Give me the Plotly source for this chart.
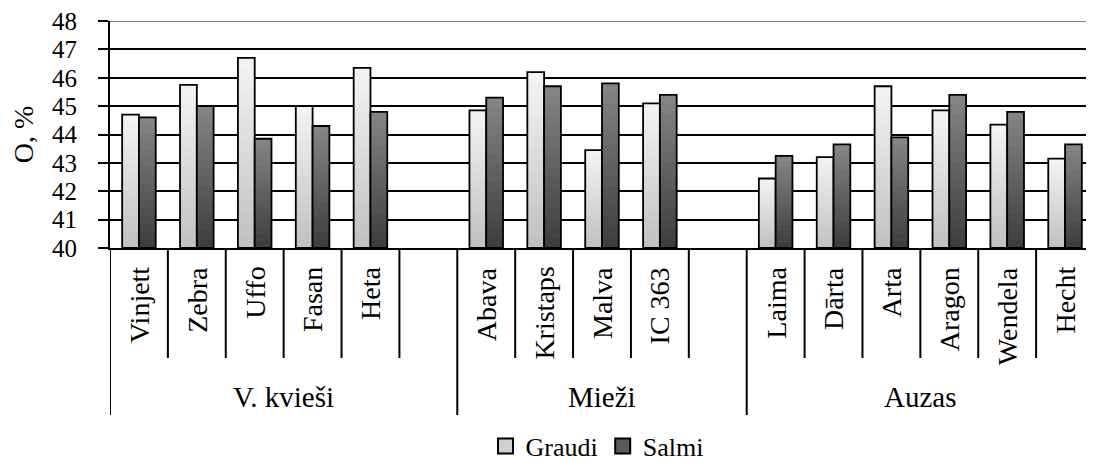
import plotly.graph_objects as go

# ---- data ----
groups = ["V. kvieši", "Mieži", "Auzas"]
varieties = [
    ["Vinjett", "Zebra", "Uffo", "Fasan", "Heta"],
    ["Abava", "Kristaps", "Malva", "IC 363"],
    ["Laima", "Dārta", "Arta", "Aragon", "Wendela", "Hecht"],
]
graudi = [44.7, 45.75, 46.7, 45.0, 46.35,
          44.85, 46.2, 43.45, 45.1,
          42.45, 43.2, 45.7, 44.85, 44.35, 43.15]
salmi = [44.6, 45.0, 43.85, 44.3, 44.8,
         45.3, 45.7, 45.8, 45.4,
         43.25, 43.65, 43.9, 45.4, 44.8, 43.65]
y_ticks = [40, 41, 42, 43, 44, 45, 46, 47, 48]

FONT = "Liberation Serif, Times New Roman, serif"
BASE = 40
OFF = 8  # page body margin of the browser

# slot positions: one empty slot after each group except the last
xpos, names, group_spans = [], [], []
slot = 0
for gi, vs in enumerate(groups):
    start = slot
    for v in varieties[gi]:
        xpos.append(slot)
        names.append(v)
        slot += 1
    if gi < len(groups) - 1:
        slot += 1  # blank slot
    group_spans.append((start - 0.5, slot - 0.5))
nslots = slot

fig = go.Figure()
W = 0.29
N = 16


def hexmix(c1, c2, t):
    r = [round(c1[i] + (c2[i] - c1[i]) * t) for i in range(3)]
    return "rgb(%d,%d,%d)" % tuple(r)


series = [
    ("Graudi", graudi, -W, (0xC0, 0xC0, 0xC0), (0xF4, 0xF4, 0xF4), "#d0d0d0"),
    ("Salmi", salmi, 0.0, (0x3C, 0x3C, 0x3C), (0x86, 0x86, 0x86), "#5a5a5a"),
]
for name, vals, off, cbot, ctop, legc in series:
    for k in range(N):
        bases = [BASE + (v - BASE) * k / N for v in vals]
        fig.add_trace(go.Bar(
            x=xpos, y=[v - b for v, b in zip(vals, bases)], base=bases,
            offset=off, width=W, showlegend=False, hoverinfo="skip",
            marker=dict(color=hexmix(cbot, ctop, (k + 0.5) / N), line=dict(width=0)),
        ))
    fig.add_trace(go.Bar(
        x=xpos, y=[v - BASE for v in vals], base=[BASE] * len(vals),
        offset=off, width=W, showlegend=False, name=name,
        marker=dict(color="rgba(0,0,0,0)", line=dict(color="black", width=1.8)),
    ))
    fig.add_trace(go.Scatter(
        x=[None], y=[None], name=name, mode="markers",
        marker=dict(symbol="square", size=15, color=legc,
                    line=dict(color="black", width=2)),
    ))

# target pixel positions (in the 1094x462 picture)
PLOT_TOP, PLOT_BOT = 21, 248
plot_h = PLOT_BOT - PLOT_TOP


def py(ypix):
    return (PLOT_BOT - ypix) / plot_h


shapes = []
short_y = py(358)
long_y = py(415)
group_edges = set()
for a, b in group_spans:
    group_edges.add(a)
    group_edges.add(b)
for i in range(nslots + 1):
    xb = i - 0.5
    y1 = long_y if xb in group_edges else short_y
    shapes.append(dict(type="line", xref="x", yref="paper", x0=xb, x1=xb,
                       y0=0, y1=y1, line=dict(color="black", width=2)))
# top gridline is grey
shapes.append(dict(type="line", xref="paper", yref="y", x0=0, x1=1, y0=48, y1=48,
                   line=dict(color="#808080", width=2), layer="above"))

annotations = []
for x, n in zip(xpos, names):
    annotations.append(dict(x=x, y=py(265), xref="x", yref="paper",
                            text=n, textangle=-90, showarrow=False,
                            xanchor="center", yanchor="top",
                            font=dict(family=FONT, size=28, color="black")))
for g, (a, b) in zip(groups, group_spans):
    annotations.append(dict(x=(a + b) / 2, y=py(397), xref="x", yref="paper",
                            text=g, showarrow=False, xanchor="center", yanchor="middle",
                            font=dict(family=FONT, size=29, color="black")))

FIG_W, FIG_H = 1094 - OFF, 462 - OFF
LEFT = 110 - OFF
fig.update_layout(
    width=FIG_W, height=FIG_H,
    margin=dict(l=LEFT, r=0, t=PLOT_TOP - OFF, b=FIG_H - (PLOT_BOT - OFF), autoexpand=False),
    paper_bgcolor="white", plot_bgcolor="white",
    barmode="overlay",
    showlegend=True,
    legend=dict(orientation="h", x=(597 - 110) / (FIG_W - LEFT), y=py(446),
                xanchor="center", yanchor="middle",
                font=dict(family=FONT, size=26, color="black"),
                itemwidth=30, tracegroupgap=0, itemsizing="trace"),
    shapes=shapes,
    annotations=annotations,
    xaxis=dict(range=[-0.5, nslots - 0.5], showticklabels=False, ticks="",
               showgrid=False, zeroline=False, showline=True,
               linecolor="black", linewidth=2, fixedrange=True),
    yaxis=dict(range=[40, 48], tickvals=y_ticks, ticks="outside", ticklen=10,
               tickwidth=2, tickcolor="black", showline=True, linecolor="black",
               linewidth=2, showgrid=True, gridcolor="black", gridwidth=1.5,
               zeroline=False, ticklabelstandoff=16, ticklabeloverflow="allow",
               tickfont=dict(family=FONT, size=25, color="black"),
               title=dict(text="O, %", standoff=22,
                          font=dict(family=FONT, size=28, color="black"))),
)

fig.write_html("out.html")
